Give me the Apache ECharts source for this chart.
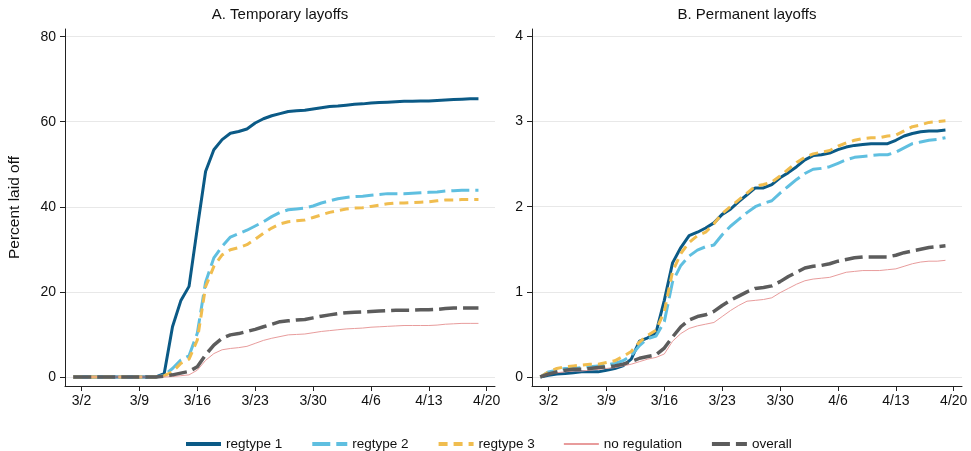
<!DOCTYPE html>
<html lang="en">
<head>
<meta charset="UTF-8">
<title>Temporary and permanent layoffs</title>
<style>
    html, body { margin: 0; padding: 0; background: #fff; }
    #main { width: 971px; height: 451px; }
</style>
</head>
<body>
<div id="main"></div>
<script src="https://cdn.jsdelivr.net/npm/echarts@6/dist/echarts.min.js"></script>
<script>
    // calendar of the x axis: 2/29 .. 4/21 (2020)
    var axisDays = ['2/29'];
    for (var d = 1; d <= 31; d++) axisDays.push('3/' + d);
    for (var d = 1; d <= 21; d++) axisDays.push('4/' + d);
    // observed days 3/1 .. 4/19
    var dataDays = axisDays.slice(1, 51);

    var xTickLabels = ['3/2', '3/9', '3/16', '3/23', '3/30', '4/6', '4/13', '4/20'];
    var tempTicks = [0, 20, 40, 60, 80];
    var permTicks = [0, 1, 2, 3, 4];

    var seriesNames = ['regtype 1', 'regtype 2', 'regtype 3', 'no regulation', 'overall'];

    // A. Temporary layoffs (percent)
    var tempReg1 = [0, 0, 0, 0, 0, 0, 0, 0, 0, 0, 0, 0.8, 11.8, 17.9, 21.3, 35.0, 48.3, 53.4, 55.8, 57.3,
        57.7, 58.3, 59.7, 60.7, 61.4, 61.9, 62.4, 62.6, 62.7, 63.0, 63.3, 63.6, 63.7, 63.9, 64.1, 64.2,
        64.4, 64.5, 64.6, 64.7, 64.8, 64.8, 64.9, 64.9, 65.0, 65.1, 65.2, 65.3, 65.4, 65.4];
    var tempReg2 = [0, 0, 0, 0, 0, 0, 0, 0, 0, 0, 0, 0.4, 2.0, 4.0, 5.0, 10.3, 22.3, 28.0, 30.7, 32.9,
        33.7, 34.5, 35.5, 36.5, 37.7, 38.7, 39.3, 39.5, 39.7, 40.2, 40.9, 41.4, 41.9, 42.2, 42.4, 42.5,
        42.7, 42.9, 43.1, 43.1, 43.1, 43.2, 43.3, 43.4, 43.5, 43.7, 43.8, 43.9, 43.9, 43.9];
    var tempReg3 = [0, 0, 0, 0, 0, 0, 0, 0, 0, 0, 0, 0.3, 1.2, 3.2, 4.2, 8.7, 21.2, 26.0, 28.7, 29.9,
        30.4, 31.1, 32.4, 33.8, 35.0, 36.0, 36.5, 36.7, 36.9, 37.5, 38.1, 38.7, 39.1, 39.5, 39.7, 39.8,
        40.1, 40.4, 40.7, 40.9, 40.9, 41.0, 41.1, 41.2, 41.4, 41.6, 41.6, 41.7, 41.7, 41.7];
    var tempNoReg = [0, 0, 0, 0, 0, 0, 0, 0, 0, 0, 0, 0, 0.1, 0.3, 0.5, 1.6, 3.9, 5.5, 6.4, 6.7,
        6.9, 7.2, 7.9, 8.6, 9.1, 9.5, 9.9, 10.0, 10.1, 10.4, 10.7, 10.9, 11.1, 11.3, 11.4, 11.5,
        11.7, 11.8, 11.9, 12.0, 12.1, 12.1, 12.1, 12.1, 12.2, 12.4, 12.5, 12.6, 12.6, 12.6];
    var tempAll = [0, 0, 0, 0, 0, 0, 0, 0, 0, 0, 0, 0.2, 0.5, 0.9, 1.3, 2.4, 5.2, 7.5, 9.1, 9.9,
        10.2, 10.7, 11.2, 11.8, 12.4, 13.0, 13.2, 13.4, 13.5, 13.9, 14.3, 14.6, 14.9, 15.1, 15.2, 15.3,
        15.4, 15.5, 15.6, 15.7, 15.7, 15.7, 15.8, 15.8, 15.9, 16.1, 16.2, 16.2, 16.2, 16.2];

    // B. Permanent layoffs (percent)
    var permReg1 = [0, 0.02, 0.035, 0.04, 0.05, 0.06, 0.06, 0.06, 0.08, 0.10, 0.13, 0.21, 0.42, 0.46, 0.52,
        0.90, 1.34, 1.52, 1.66, 1.70, 1.75, 1.81, 1.91, 1.97, 2.06, 2.14, 2.22, 2.22, 2.26, 2.34, 2.40,
        2.47, 2.55, 2.60, 2.61, 2.63, 2.67, 2.70, 2.72, 2.73, 2.74, 2.74, 2.74, 2.78, 2.83, 2.86, 2.88,
        2.89, 2.89, 2.90];
    var permReg2 = [0, 0.06, 0.08, 0.10, 0.10, 0.11, 0.12, 0.13, 0.14, 0.16, 0.19, 0.25, 0.37, 0.45, 0.48,
        0.65, 1.12, 1.31, 1.42, 1.49, 1.53, 1.55, 1.67, 1.77, 1.85, 1.93, 2.00, 2.04, 2.07, 2.16, 2.24,
        2.32, 2.39, 2.44, 2.45, 2.47, 2.51, 2.55, 2.58, 2.59, 2.60, 2.61, 2.61, 2.64, 2.69, 2.74, 2.76,
        2.78, 2.79, 2.81];
    var permReg3 = [0, 0.06, 0.10, 0.12, 0.13, 0.14, 0.15, 0.15, 0.17, 0.19, 0.24, 0.30, 0.41, 0.49, 0.55,
        0.77, 1.24, 1.45, 1.58, 1.66, 1.70, 1.80, 1.92, 2.00, 2.08, 2.16, 2.24, 2.26, 2.29, 2.36, 2.44,
        2.52, 2.58, 2.62, 2.64, 2.66, 2.71, 2.75, 2.78, 2.80, 2.81, 2.81, 2.83, 2.84, 2.89, 2.94, 2.96,
        2.99, 3.00, 3.01];
    var permNoReg = [0, 0.035, 0.05, 0.06, 0.07, 0.07, 0.08, 0.09, 0.10, 0.11, 0.13, 0.15, 0.18, 0.21, 0.23,
        0.27, 0.42, 0.51, 0.57, 0.60, 0.62, 0.64, 0.71, 0.78, 0.84, 0.89, 0.90, 0.91, 0.93, 0.99, 1.04,
        1.09, 1.13, 1.15, 1.16, 1.17, 1.20, 1.23, 1.24, 1.25, 1.25, 1.25, 1.26, 1.27, 1.30, 1.33, 1.35,
        1.36, 1.36, 1.37];
    var permAll = [0, 0.035, 0.06, 0.08, 0.09, 0.09, 0.10, 0.11, 0.12, 0.13, 0.15, 0.18, 0.22, 0.24, 0.26,
        0.34, 0.47, 0.59, 0.67, 0.71, 0.73, 0.77, 0.84, 0.90, 0.95, 1.00, 1.04, 1.05, 1.07, 1.12, 1.18,
        1.23, 1.28, 1.30, 1.31, 1.33, 1.36, 1.38, 1.40, 1.41, 1.41, 1.41, 1.41, 1.43, 1.46, 1.48, 1.50,
        1.52, 1.53, 1.54];

    var FONT = '"Liberation Sans", Arial, sans-serif';
    var lineLooks = [
        {color: '#0b5a86', width: 3, type: 'solid', legendWidth: 4},
        {color: '#5fbfe0', width: 3, type: [18, 6], legendWidth: 4},
        {color: '#f0bd4f', width: 3, type: [9, 6], legendWidth: 4},
        {color: '#e89c9c', width: 1, type: 'solid', legendWidth: 2},
        {color: '#5c5c5c', width: 3.5, type: [18, 6], legendWidth: 4}
    ];

    function pairs(values) {
        return values.map(function (v, i) { return [dataDays[i], v]; });
    }

    function isTickDay(index, value) {
        return xTickLabels.indexOf(value) >= 0;
    }

    function makeX(gridIndex) {
        return {
            type: 'category',
            gridIndex: gridIndex,
            data: axisDays,
            boundaryGap: false,
            axisLine: {onZero: false, lineStyle: {color: '#222', width: 1}},
            axisTick: {interval: isTickDay, length: 5, lineStyle: {color: '#222'}},
            axisLabel: {interval: isTickDay, margin: 8, color: '#111', fontSize: 14, fontFamily: FONT},
            splitLine: {show: false}
        };
    }

    function makeY(gridIndex, min, max, ticks) {
        return {
            type: 'value',
            gridIndex: gridIndex,
            min: min,
            max: max,
            axisLine: {show: true, lineStyle: {color: '#222', width: 1}},
            axisTick: {show: true, length: 5, customValues: ticks, lineStyle: {color: '#222'}},
            axisLabel: {customValues: ticks, margin: 9, color: '#111', fontSize: 14, fontFamily: FONT},
            splitLine: {show: true, lineStyle: {color: '#e8e8e8', width: 1}}
        };
    }

    var panels = [
        [tempReg1, tempReg2, tempReg3, tempNoReg, tempAll],
        [permReg1, permReg2, permReg3, permNoReg, permAll]
    ];
    var series = [];
    panels.forEach(function (panel, p) {
        panel.forEach(function (values, k) {
            series.push({
                name: seriesNames[k],
                type: 'line',
                xAxisIndex: p,
                yAxisIndex: p,
                data: pairs(values),
                symbol: 'none',
                animation: false,
                lineStyle: {color: lineLooks[k].color, width: lineLooks[k].width, type: lineLooks[k].type, cap: 'butt'},
                itemStyle: {color: lineLooks[k].color}
            });
        });
    });

    var legendItems = seriesNames.map(function (name, k) {
        return {name: name, lineStyle: {width: lineLooks[k].legendWidth}};
    });

    var yLeft = makeY(0, -2.12, 81.8, tempTicks);
    yLeft.name = 'Percent laid off';
    yLeft.nameLocation = 'middle';
    yLeft.nameGap = 42;
    yLeft.nameTextStyle = {color: '#111', fontSize: 15.5, fontFamily: FONT};

    var myChart = echarts.init(document.getElementById('main'));
    var option = {
        backgroundColor: '#ffffff',
        animation: false,
        textStyle: {fontFamily: FONT},
        grid: [
            {left: 65, right: 476, top: 29, height: 357},
            {left: 532, right: 9, top: 29, height: 357}
        ],
        graphic: [
            {type: 'text', x: 280, y: 7, style: {text: 'A. Temporary layoffs', align: 'center', fill: '#111', fontSize: 15, fontFamily: FONT}},
            {type: 'text', x: 747, y: 7, style: {text: 'B. Permanent layoffs', align: 'center', fill: '#111', fontSize: 15, fontFamily: FONT}}
        ],
        legend: {
            data: legendItems,
            left: 179,
            top: 432,
            itemWidth: 35,
            itemHeight: 14,
            itemGap: 28,
            itemStyle: {opacity: 0},
            textStyle: {color: '#111', fontSize: 13.5, fontFamily: FONT}
        },
        xAxis: [makeX(0), makeX(1)],
        yAxis: [yLeft, makeY(1, -0.106, 4.087, permTicks)],
        series: series
    };
    myChart.setOption(option);
</script>
</body>
</html>
